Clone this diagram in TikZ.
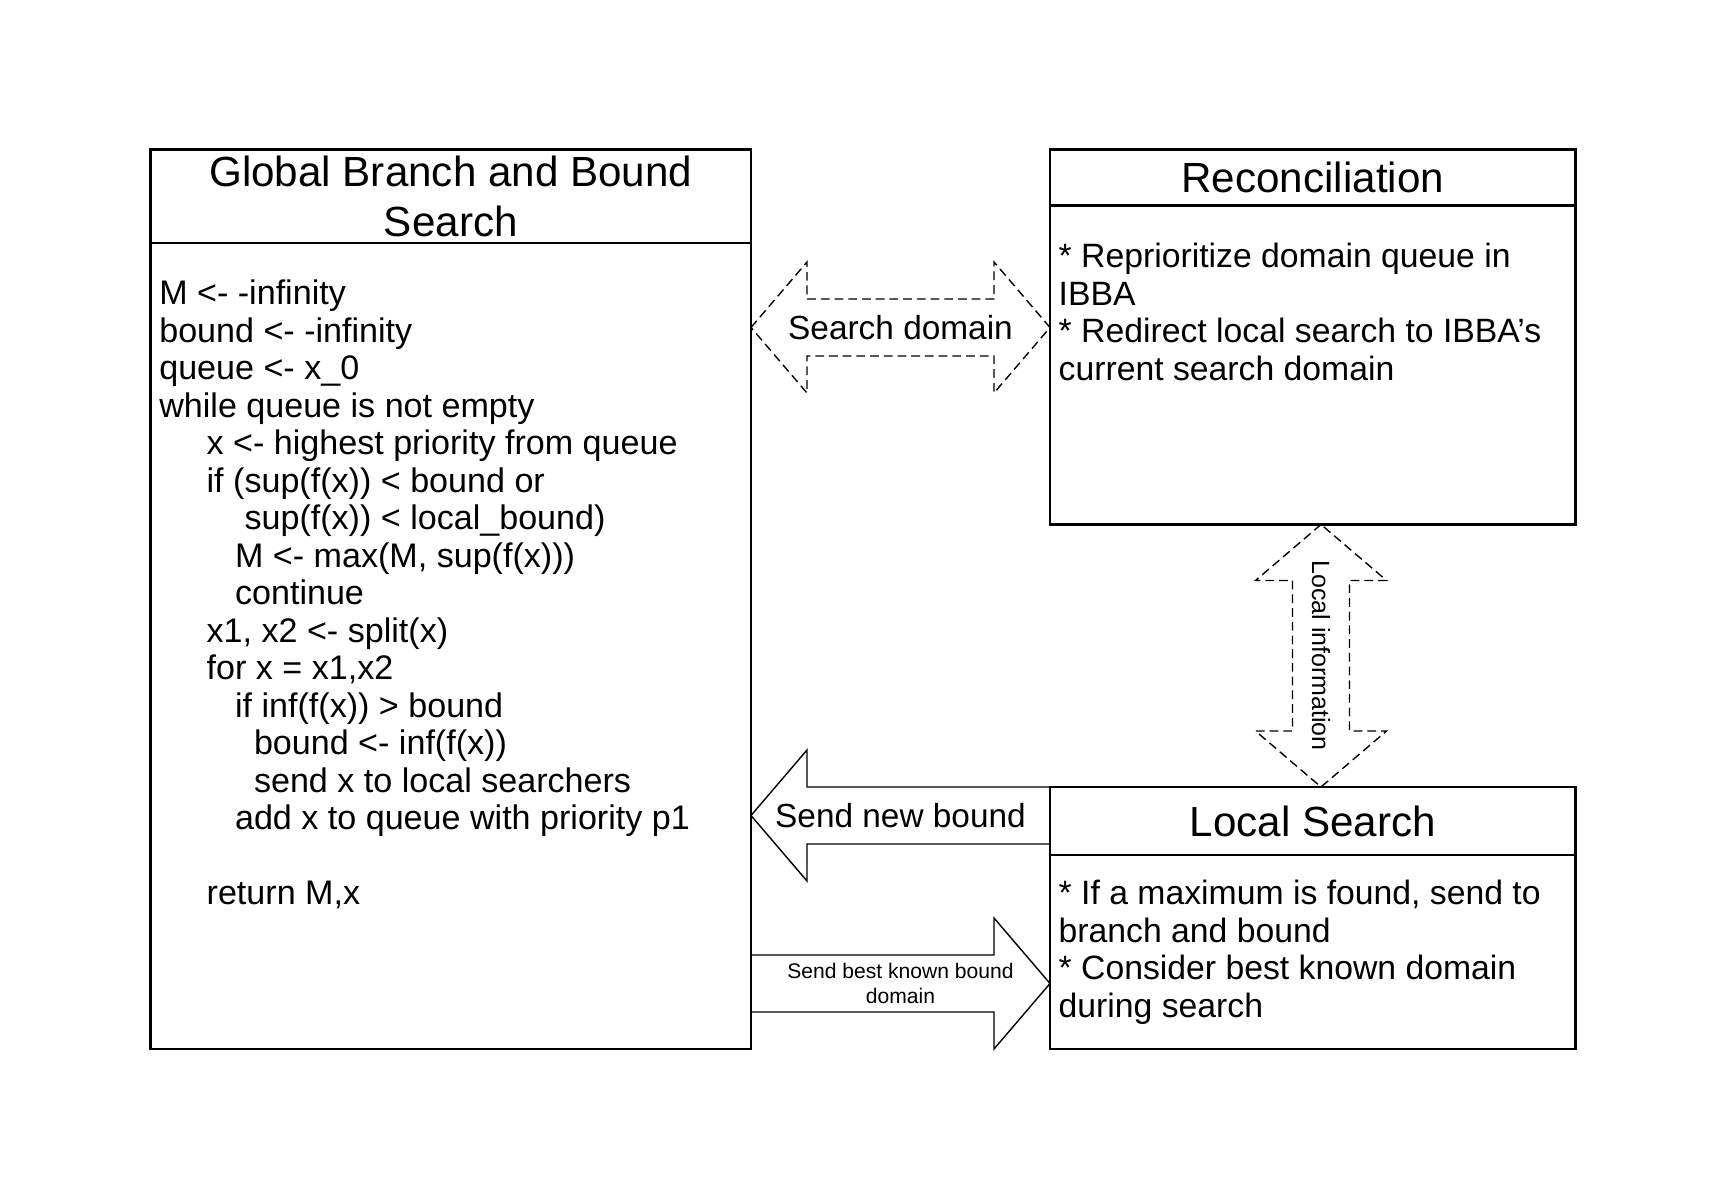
\documentclass[tikz,border=0pt]{standalone}
\usepackage{fontspec}
\setmainfont{Liberation Sans}
\usetikzlibrary{positioning,calc}
\newcommand{\ind}[1]{\hspace*{#1\fontdimen2\font}}

\begin{document}
\begin{tikzpicture}[
  head/.style={draw,line width=0.65pt,outer sep=0pt,inner sep=0pt,align=center,font=\fontsize{12}{14.1}\selectfont},
  body/.style={draw,line width=0.65pt,outer sep=0pt,inner sep=0pt},
  txt/.style={anchor=north west,inner sep=0pt,align=left,font=\fontsize{9.6}{10.67}\selectfont},
  lbl/.style={inner sep=0pt,align=center,font=\fontsize{9.5}{10.67}\selectfont},
  small/.style={inner sep=0pt,align=center,font=\fontsize{6}{7.2}\selectfont},
  blk/.style={line width=0.4pt,line join=miter},
  dblk/.style={blk,dash pattern=on 2.5pt off 1.4pt}]
  \useasboundingbox (0,0) rectangle (17.24,-11.99);
  % boxes
  \node[head,minimum width=6.004cm,minimum height=0.935cm,anchor=north west] (gbbt) at (1.506,-1.495) {Global Branch and Bound\\Search};
  \node[body,minimum width=6.004cm,minimum height=8.06cm,below=0pt of gbbt] (gbb) {};
  \node[head,minimum width=5.256cm,minimum height=0.561cm,anchor=north west] (rect) at ($(gbbt.north east)+(2.99,0)$) {Reconciliation};
  \node[body,minimum width=5.256cm,minimum height=3.189cm,below=0pt of rect] (rec) {};
  \node[head,minimum width=5.256cm,minimum height=0.68cm,below=2.625cm of rec] (lst) {Local Search};
  \node[body,minimum width=5.256cm,minimum height=1.94cm,below=0pt of lst] (ls) {};
  % box texts
  \node[txt,font=\fontsize{9.7}{10.67}\selectfont] (gbbtxt) at ($(gbb.north west)+(0.08,-0.35)$) {\strut M <- -infinity\\
    bound <- -infinity\\
    queue <- x\_0\\
    while queue is not empty\\
    \ind{5}x <- highest priority from queue\\
    \ind{5}if (sup(f(x)) < bound or\\
    \ind{9}sup(f(x)) < local\_bound)\\
    \ind{8}M <- max(M, sup(f(x)))\\
    \ind{8}continue\\
    \ind{5}x1, x2 <- split(x)\\
    \ind{5}for x = x1,x2\\
    \ind{8}if inf(f(x)) > bound\\
    \ind{10}bound <- inf(f(x))\\
    \ind{10}send x to local searchers\\
    \ind{8}add x to queue with priority p1\\[10.67pt]
    \ind{5}return M,x};
  \node[txt] (rectxt) at ($(rec.north west)+(0.08,-0.35)$) {\strut * Reprioritize domain queue in\\IBBA\\{}* Redirect local search to IBBA’s\\current search domain};
  \node[txt] (lstxt) at ($(ls.north west)+(0.08,-0.23)$) {\strut * If a maximum is found, send to\\branch and bound\\{}* Consider best known domain\\during search};
  % arrow ends
  \coordinate (sdA) at (gbb.east |- 0,-3.275);
  \coordinate (sdB) at (rec.west |- 0,-3.275);
  \coordinate (liA) at (rec.south -| 13.21,0);
  \coordinate (liB) at (lst.north -| 13.21,0);
  \coordinate (snA) at (gbb.east |- 0,-8.155);
  \coordinate (snB) at (lst.west |- 0,-8.155);
  \coordinate (sbA) at (gbb.east |- 0,-9.835);
  \coordinate (sbB) at (ls.west |- 0,-9.835);
  % block arrows
  \draw[dblk] (sdA) -- ++(0.56,0.655) |- ($(sdB)+(-0.56,0.285)$) -- ++(0,0.37) -- (sdB)
    -- ++(-0.56,-0.655) |- ($(sdA)+(0.56,-0.285)$) -- ++(0,-0.37) -- cycle;
  \draw[dblk] (liA) -- ++(-0.655,-0.56) -| ($(liB)+(-0.285,0.56)$) -- ++(-0.37,0) -- (liB)
    -- ++(0.655,0.56) -| ($(liA)+(0.285,-0.56)$) -- ++(0.37,0) -- cycle;
  \draw[blk] (snA) -- ++(0.56,0.655) |- ($(snB)+(0,0.285)$) -- ($(snB)+(0,-0.285)$)
    -| ($(snA)+(0.56,-0.655)$) -- cycle;
  \draw[blk] (sbB) -- ++(-0.56,0.655) |- ($(sbA)+(0,0.285)$) -- ($(sbA)+(0,-0.285)$)
    -| ($(sbB)+(-0.56,-0.655)$) -- cycle;
  % arrow labels
  \node[lbl] (sdl) at ($(sdA)!0.5!(sdB)$) {Search domain};
  \node[lbl,font=\fontsize{7.1}{8.5}\selectfont,rotate=-90] (lil) at ($(liA)!0.5!(liB)$) {Local information};
  \node[lbl] (snl) at ($(snA)!0.5!(snB)$) {Send new bound};
  \node[small] (sbl) at ($(sbA)!0.5!(sbB)$) {Send best known bound\\domain};
\end{tikzpicture}
\end{document}
